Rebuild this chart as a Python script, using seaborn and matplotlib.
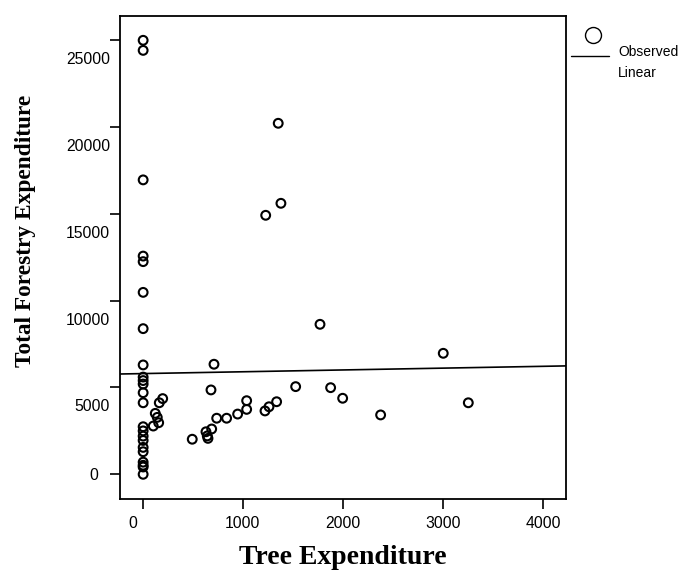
import numpy as np
import pandas as pd
import matplotlib
matplotlib.use("Agg")
import matplotlib.pyplot as plt
import seaborn as sns
from matplotlib.transforms import ScaledTranslation
from matplotlib.lines import Line2D

# ---- data ----
tree_expenditure = [
    5, 5, 5, 5, 5, 5, 5, 5, 5, 5, 5, 5, 5, 5, 5, 5, 5, 5, 5, 5, 5, 5, 5,
    106, 126, 146, 160, 166, 200,
    495, 632, 645, 652, 689, 712, 682, 739, 838, 948, 1038, 1038, 1221, 1261, 1337,
    1527, 1876, 1996, 2375, 3000, 3250,
    1353, 1228, 1380, 1770,
]
total_expenditure = [
    25000, 24420, 16960, 12570, 12250, 10480, 8390, 6300, 5600, 5400, 5200, 4700,
    4120, 2740, 2500, 2200, 1950, 1550, 1300, 700, 520, 420, 0,
    2780, 3510, 3280, 2970, 4120, 4360,
    2020, 2450, 2210, 2070, 2610, 6340, 4860, 3230, 3230, 3470, 4240, 3740, 3650, 3890, 4180,
    5050, 4990, 4380, 3420, 6970, 4120,
    20220, 14920, 15610, 8640,
]
x_ticks = [0, 1000, 2000, 3000, 4000]
y_ticks = [0, 5000, 10000, 15000, 20000, 25000]
x_label = "Tree Expenditure"
y_label = "Total Forestry Expenditure"
legend_labels = ["Observed", "Linear"]

sns.set_theme(style="white")
plt.rcParams["font.family"] = ["Liberation Sans", "DejaVu Sans"]

W, H = 689, 571
fig = plt.figure(figsize=(W / 100, H / 100), dpi=100)
fig.patch.set_facecolor("white")
ax = fig.add_axes([120 / W, (H - 499) / H, 446 / W, 483 / H])
ax.set_facecolor("white")

df = pd.DataFrame({"tree": tree_expenditure, "total": total_expenditure})

ax.set_xlim(-226, 4225)
ax.set_ylim(-1423, 26400)

sns.scatterplot(data=df, x="tree", y="total", ax=ax, marker="o", s=40,
                facecolor="none", edgecolor="black", linewidth=1.5, zorder=3)
sns.regplot(data=df, x="tree", y="total", ax=ax, scatter=False, ci=None,
            truncate=False, line_kws=dict(color="black", lw=1.2))

ax.set_xlim(-226, 4225)
ax.set_ylim(-1423, 26400)

for s in ax.spines.values():
    s.set_visible(True)
    s.set_color("black")
    s.set_linewidth(1.3)

ax.set_xticks(x_ticks)
ax.set_yticks(y_ticks)
ax.set_xticklabels([str(v) for v in x_ticks])
ax.set_yticklabels([str(v) for v in y_ticks])
ax.tick_params(axis="both", direction="out", length=7.2, width=1.2,
               colors="black", labelsize=11.3, left=True, bottom=True,
               top=False, right=False)
ax.tick_params(axis="y", pad=0)
ax.tick_params(axis="x", pad=5)

ax.set_xlabel(x_label, fontfamily="Liberation Serif", fontweight="bold",
              fontsize=20, color="black")
ax.set_ylabel(y_label, fontfamily="Liberation Serif", fontweight="bold",
              fontsize=16.8, color="black")
ax.xaxis.set_label_coords(0.5, -0.122)
ax.xaxis.label.set_va("center")
ax.yaxis.set_label_coords(-0.213, 0.555)
ax.yaxis.label.set_va("center")

# SPSS-style label offsets
for lab, v in zip(ax.get_yticklabels(), y_ticks):
    if v == 0:
        off = ScaledTranslation(-12 / 100, 0, fig.dpi_scale_trans)
    else:
        off = ScaledTranslation(0, -18 / 100, fig.dpi_scale_trans)
    lab.set_transform(lab.get_transform() + off)
for lab, v in zip(ax.get_xticklabels(), x_ticks):
    if v == 0:
        lab.set_transform(lab.get_transform() +
                          ScaledTranslation(-10 / 100, 0, fig.dpi_scale_trans))

# legend (SPSS style)
fig.add_artist(Line2D([593 / W], [1 - 35 / H], marker="o", ms=11.5,
                      mfc="none", mec="black", mew=1.0, ls="none",
                      transform=fig.transFigure))
fig.add_artist(Line2D([571 / W, 609 / W], [1 - 56.3 / H] * 2, color="black",
                      lw=1.0, transform=fig.transFigure))
fig.text(618 / W, 1 - 52 / H, legend_labels[0], fontsize=10, va="center",
         ha="left", color="black")
fig.text(618 / W, 1 - 73 / H, legend_labels[1], fontsize=10, va="center",
         ha="left", color="black")

fig.savefig("out.png", dpi=100, facecolor="white")
